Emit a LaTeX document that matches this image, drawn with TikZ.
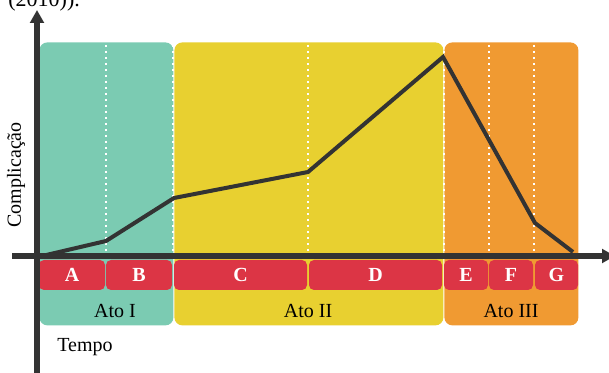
\documentclass[tikz,border=0pt]{standalone}
\usepackage{fontspec}
\setmainfont{Liberation Serif}
\usetikzlibrary{arrows.meta}
\definecolor{atoone}{HTML}{7BCBB2}
\definecolor{atotwo}{HTML}{E8D030}
\definecolor{atothree}{HTML}{F09A32}
\definecolor{cena}{HTML}{DC3545}
\definecolor{eixo}{HTML}{333333}
\tikzset{
  ato/.style={rounded corners=4pt, inner sep=0pt, minimum height=141.5pt, anchor=north west},
  cenabox/.style={fill=cena, rounded corners=2.5pt, inner sep=0pt, minimum height=15pt, text=white, font=\bfseries},
  divisa/.style={white, line width=0.8pt, dash pattern=on 0.8pt off 2.2pt},
  eixoseta/.style={draw=eixo, line width=2.6pt, -{Triangle[length=6.5pt,width=6.8pt]}}
}
\begin{document}
\begin{tikzpicture}[x=0.5pt, y=-0.5pt, font=\fontsize{10}{12}\selectfont]
\useasboundingbox (0,0) rectangle (609,373);
\node[font=\fontsize{11}{13}\selectfont, anchor=base west, inner sep=0pt] (ref) at (8,7) {(2010)).};
% atos
\node[ato, fill=atoone, minimum width=67pt] (atoI) at (39,42) {};
\node[ato, fill=atotwo, minimum width=134.5pt] (atoII) at (174,42) {};
\node[ato, fill=atothree, minimum width=67pt] (atoIII) at (444,42) {};
\node (lblI) at (115,311) {Ato I};
\node (lblII) at (308,311) {Ato II};
\node (lblIII) at (511,311) {Ato III};
% divisoes pontilhadas
\foreach \x in {106,173,308,444,489,534} {
  \draw[divisa] (\x,45) -- (\x,253);
}
% cenas
\foreach \nome/\cx/\w in {A/72/66,B/139/66,C/240.5/133,D/375.5/133,E/466/44,F/511/44,G/556.5/43} {
  \node[cenabox, minimum width=\w*0.5pt] (c\nome) at (\cx,275) {\nome};
}
% eixos
\coordinate (ybase) at (37,380);
\coordinate (ytop) at (37,10);
\coordinate (xbase) at (12,256);
\coordinate (xtop) at (615,256);
\draw[eixoseta] (ybase) -- (ytop);
\draw[eixoseta] (xbase) -- (xtop);
\node (tempo) at (85,347) {Tempo};
\node[rotate=90] (compl) at (16,175) {Complicação};
% curva de complicacao
\coordinate (p0) at (42,256);
\coordinate (p1) at (106,241);
\coordinate (p2) at (174,198);
\coordinate (p3) at (308,172);
\coordinate (p4) at (443,57);
\coordinate (p5) at (535,223);
\coordinate (p6) at (573,252);
\draw[eixo, line width=2pt, line join=miter] (p0) -- (p1) -- (p2) -- (p3) -- (p4) -- (p5) -- (p6);
\end{tikzpicture}
\end{document}
